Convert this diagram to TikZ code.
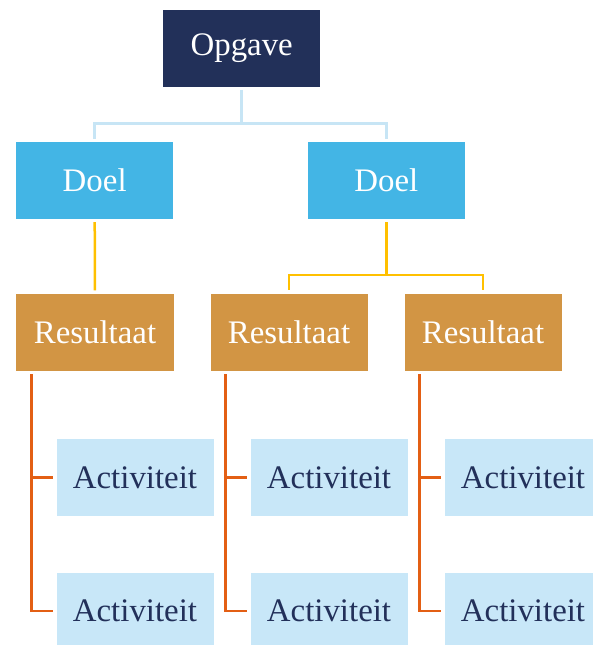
\documentclass[tikz,border=0pt]{standalone}
\usepackage{fontspec}
\setmainfont{Liberation Serif}
\usetikzlibrary{calc}
\definecolor{navy}{HTML}{223059}
\definecolor{doelblue}{HTML}{43B5E5}
\definecolor{resbrown}{HTML}{D29544}
\definecolor{actblue}{HTML}{C8E7F8}
\definecolor{acttext}{HTML}{22305A}
\definecolor{lightconn}{HTML}{C7E5F5}
\definecolor{yellowconn}{HTML}{FFC000}
\definecolor{orangeconn}{HTML}{E35F14}
\begin{document}
\begin{tikzpicture}[x=1bp,y=-1bp,
  box/.style={minimum width=157bp, minimum height=77bp, inner sep=0pt, anchor=north west, font=\fontsize{33}{37}\selectfont},
  opgbox/.style={box, fill=navy, text=white},
  doelbox/.style={box, fill=doelblue, text=white},
  resbox/.style={box, fill=resbrown, text=white},
  actbox/.style={box, fill=actblue, text=acttext},
  lconn/.style={draw=lightconn, line width=3bp, shorten <=3bp, shorten >=3bp},
  yconn/.style={draw=yellowconn, line width=2.5bp, shorten <=3bp, shorten >=3bp},
  oconn/.style={draw=orangeconn, line width=2.5bp, shorten >=3bp}]
\path[use as bounding box, clip] (0,0) rectangle (593,645);
% nodes
\node[opgbox] (opg) at (163,9.5) {Opgave};
\node[doelbox] (d1) at (16,141.7) {Doel};
\node[doelbox] (d2) at (307.6,141.7) {Doel};
\node[resbox] (r1) at (16.3,293.3) {Resultaat};
\node[resbox] (r2) at (210.3,293.3) {Resultaat};
\node[resbox] (r3) at (404.3,293.3) {Resultaat};
\node[actbox] (a11) at (56.3,438.7) {Activiteit};
\node[actbox] (a12) at (56.3,572.3) {Activiteit};
\node[actbox] (a21) at (250.3,438.7) {Activiteit};
\node[actbox] (a22) at (250.3,572.3) {Activiteit};
\node[actbox] (a31) at (444.3,438.7) {Activiteit};
\node[actbox] (a32) at (444.3,572.3) {Activiteit};
% Opgave -> Doel
\draw[lconn] (opg.south) -- ++(0,36.5) -| (d1.north);
\draw[lconn] (opg.south) -- ++(0,36.5) -| (d2.north);
% Doel -> Resultaat
\draw[yconn] (d1.south) -- (r1.north);
\draw[yconn] (d2.south) -- ++(0,56) -| (r2.north);
\draw[yconn] (d2.south) -- ++(0,56) -| (r3.north);
% Resultaat -> Activiteit
\foreach \r/\a/\b in {r1/a11/a12, r2/a21/a22, r3/a31/a32}{
  \draw[oconn] ($(\r.south west)+(15,3.5)$) |- (\a.west);
  \draw[oconn] ($(\r.south west)+(15,3.5)$) |- (\b.west);
}
\end{tikzpicture}
\end{document}
